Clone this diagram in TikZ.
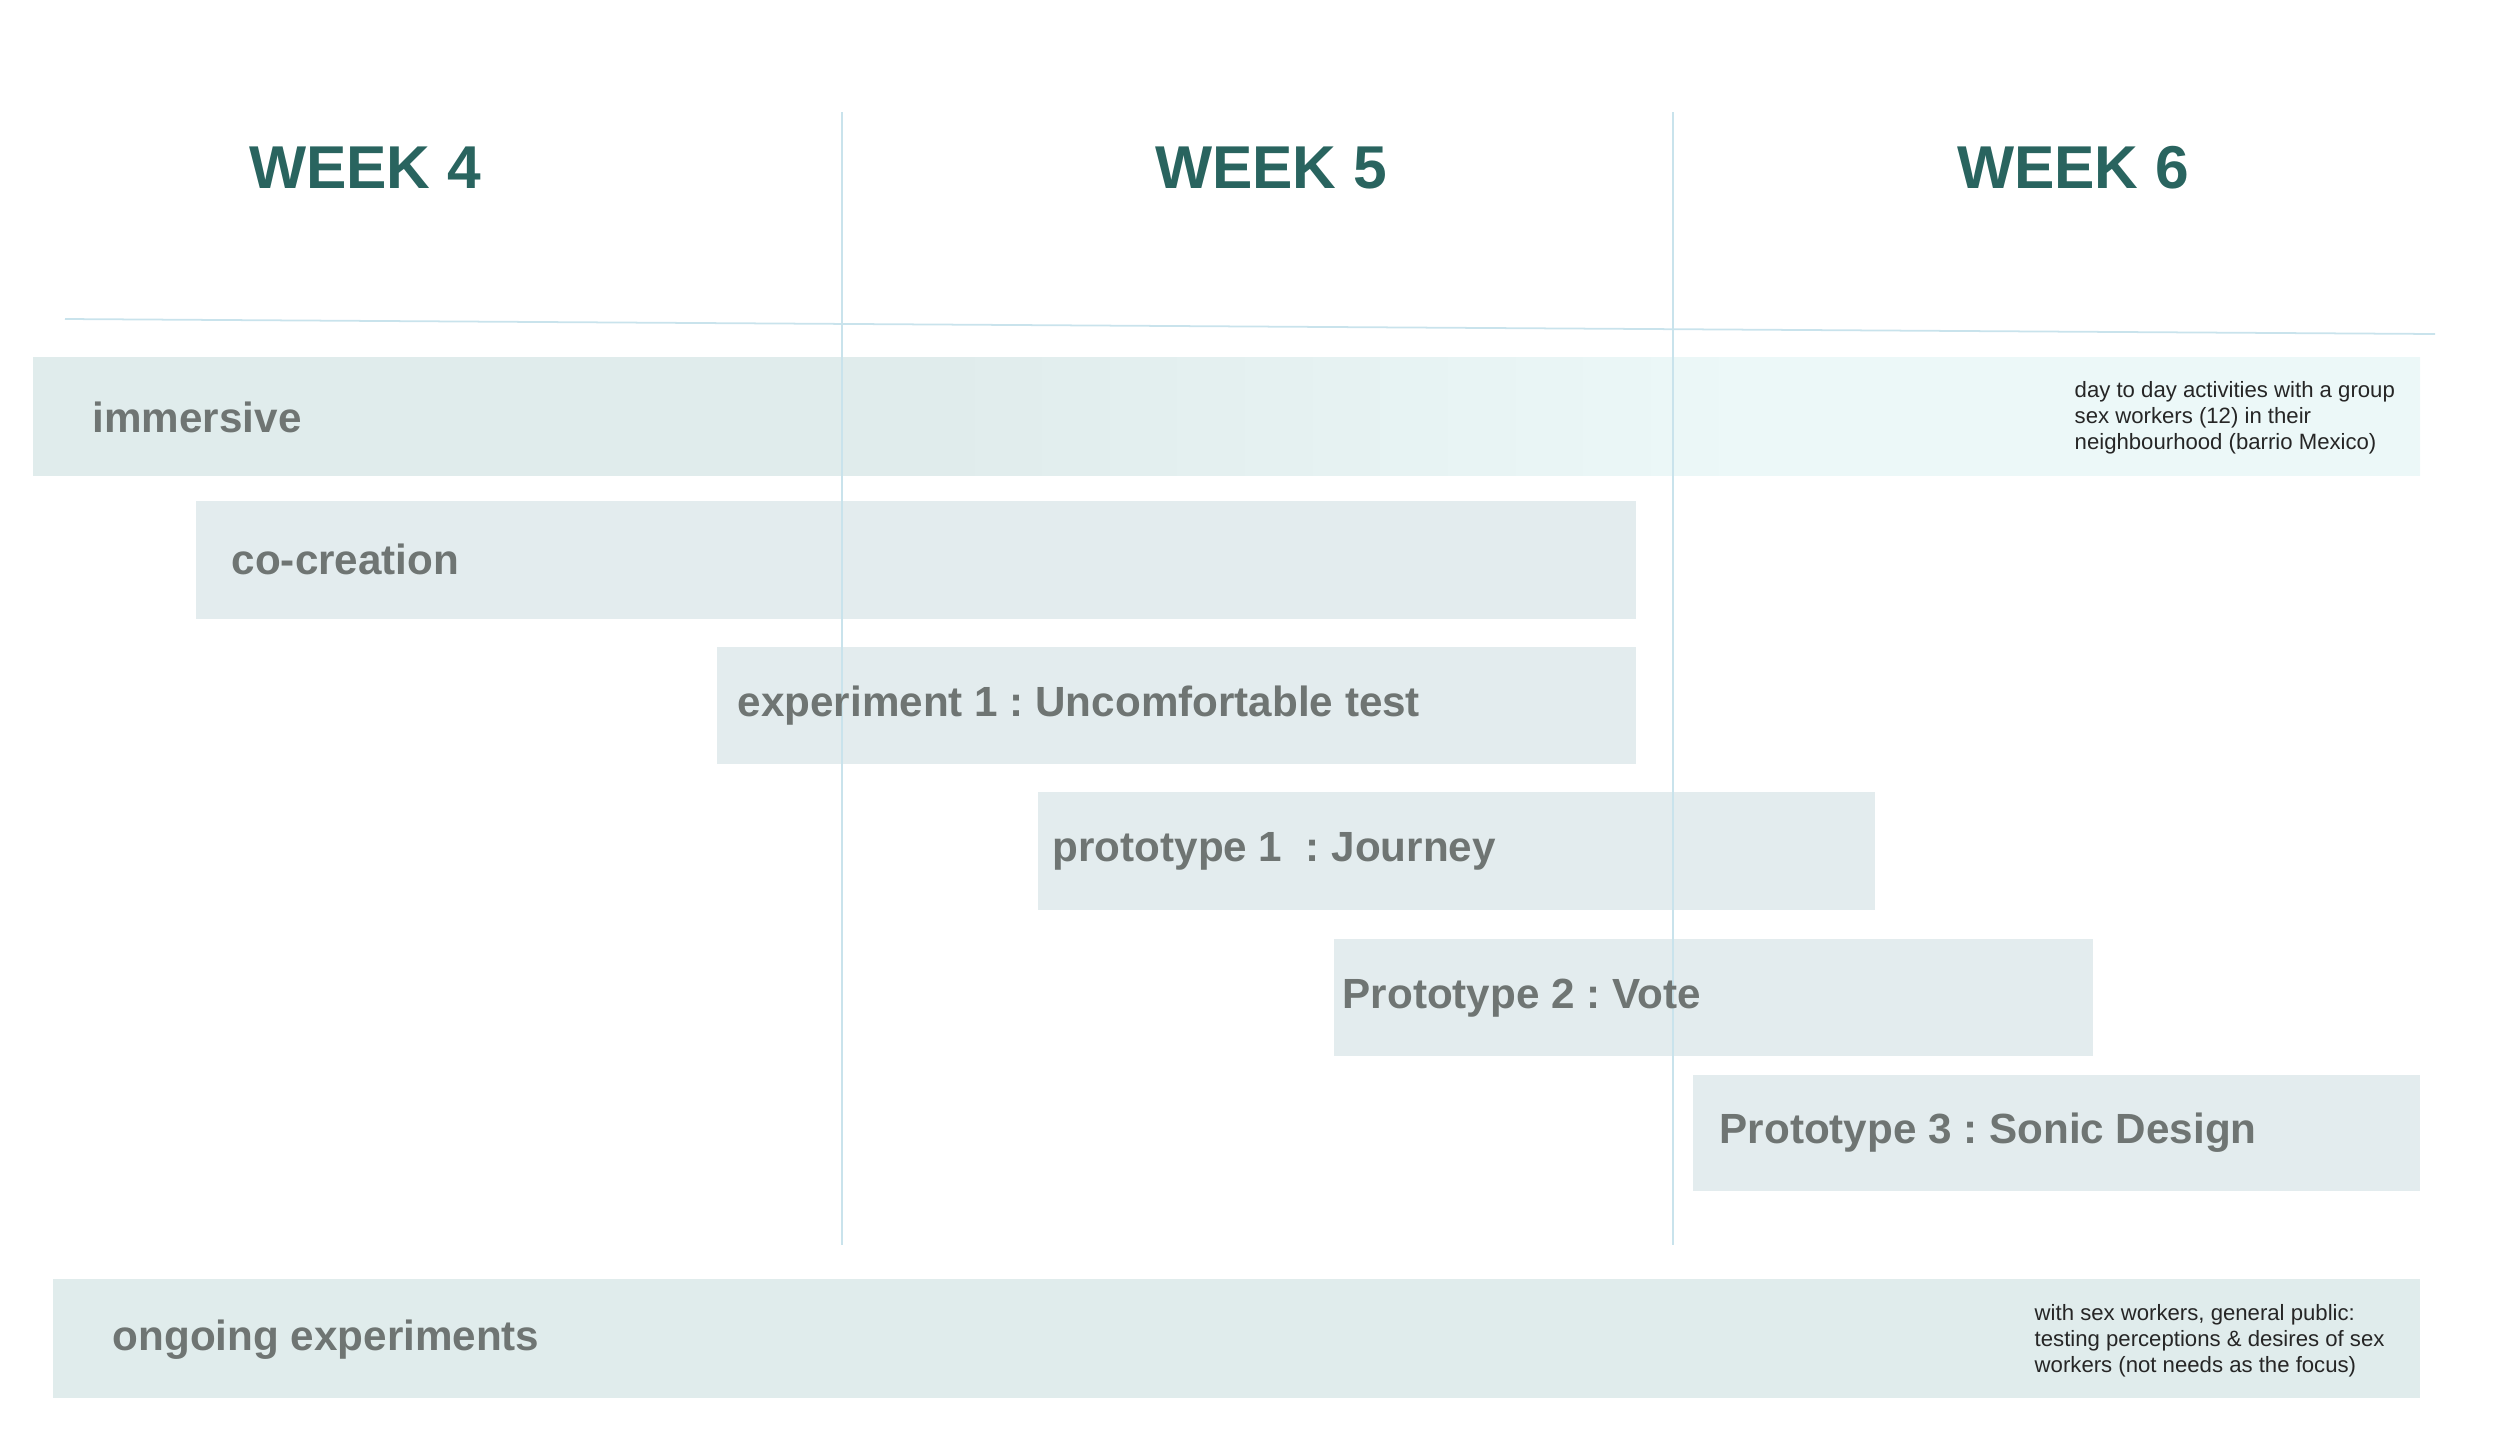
\documentclass[tikz,border=0pt]{standalone}
\usepackage{fontspec}
\setmainfont{Liberation Sans}
\frenchspacing
\definecolor{weekgreen}{HTML}{29645F}
\definecolor{barfill}{HTML}{E3ECEE}
\definecolor{immfill}{HTML}{E0ECEC}
\definecolor{immfade}{HTML}{ECF8F8}
\definecolor{labelgray}{HTML}{6F7573}
\definecolor{gridblue}{HTML}{C9E3EC}
\pgfdeclarehorizontalshading{immshade}{100bp}{color(0bp)=(immfill); color(44bp)=(immfill); color(61bp)=(immfade); color(100bp)=(immfade)}
\begin{document}
\begin{tikzpicture}[x=0.01cm, y=-0.01cm,
	week/.style={font=\fontsize{17.2}{20}\bfseries, text=weekgreen, anchor=base},
	barlabel/.style={font=\fontsize{12}{14}\bfseries, text=labelgray, anchor=base west, inner sep=0},
	note/.style={font=\fontsize{6.3}{7.3}\selectfont, text=black!85, align=left, anchor=north west, inner sep=0}]
		\useasboundingbox (0, 0) rectangle (2500, 1448);

		% bars
		\shade[shading=immshade] (33, 357) rectangle (2420, 475);
		\fill[barfill] (196, 501) rectangle (1636, 619);
		\fill[barfill] (717, 647) rectangle (1636, 764);
		\fill[barfill] (1038, 792) rectangle (1875, 910);
		\fill[barfill] (1334, 939) rectangle (2093, 1056);
		\fill[barfill] (1693, 1075) rectangle (2420, 1191);
		\fill[immfill] (53, 1279) rectangle (2420, 1398);

		% grid lines
		\draw[gridblue, line width=.5pt] (65, 319) -- (2435, 334);
		\foreach \x in {842, 1673}
		\draw[gridblue, line width=.5pt] (\x, 112) -- (\x, 1245);

		\node[week] (w4) at (365, 188) {WEEK 4};
		\node[week] (w5) at (1271, 188) {WEEK 5};
		\node[week] (w6) at (2073, 188) {WEEK 6};

		\node[barlabel] (immersive) at (92, 432) {immersive};
		\node[barlabel] (cocreation) at (231, 574) {co-creation};
		\node[barlabel] (exp1) at (737, 716) {experiment 1 : Uncomfortable test};
		\node[barlabel] (proto1) at (1052, 861) {prototype 1 \ : Journey};
		\node[barlabel] (proto2) at (1342, 1008) {Prototype 2 : Vote};
		\node[barlabel] (proto3) at (1719, 1143) {Prototype 3 : Sonic Design};
		\node[barlabel] (ongoing) at (112, 1350) {ongoing experiments};

		\node[note] (immnote) at (2074, 381) {day to day activities with a group\\sex workers (12) in their\\neighbourhood (barrio Mexico)};
		\node[note] (ongoingnote) at (2034, 1304) {with sex workers, general public:\\testing perceptions \& desires of sex\\workers (not needs as the focus)};

	\end{tikzpicture}
\end{document}
